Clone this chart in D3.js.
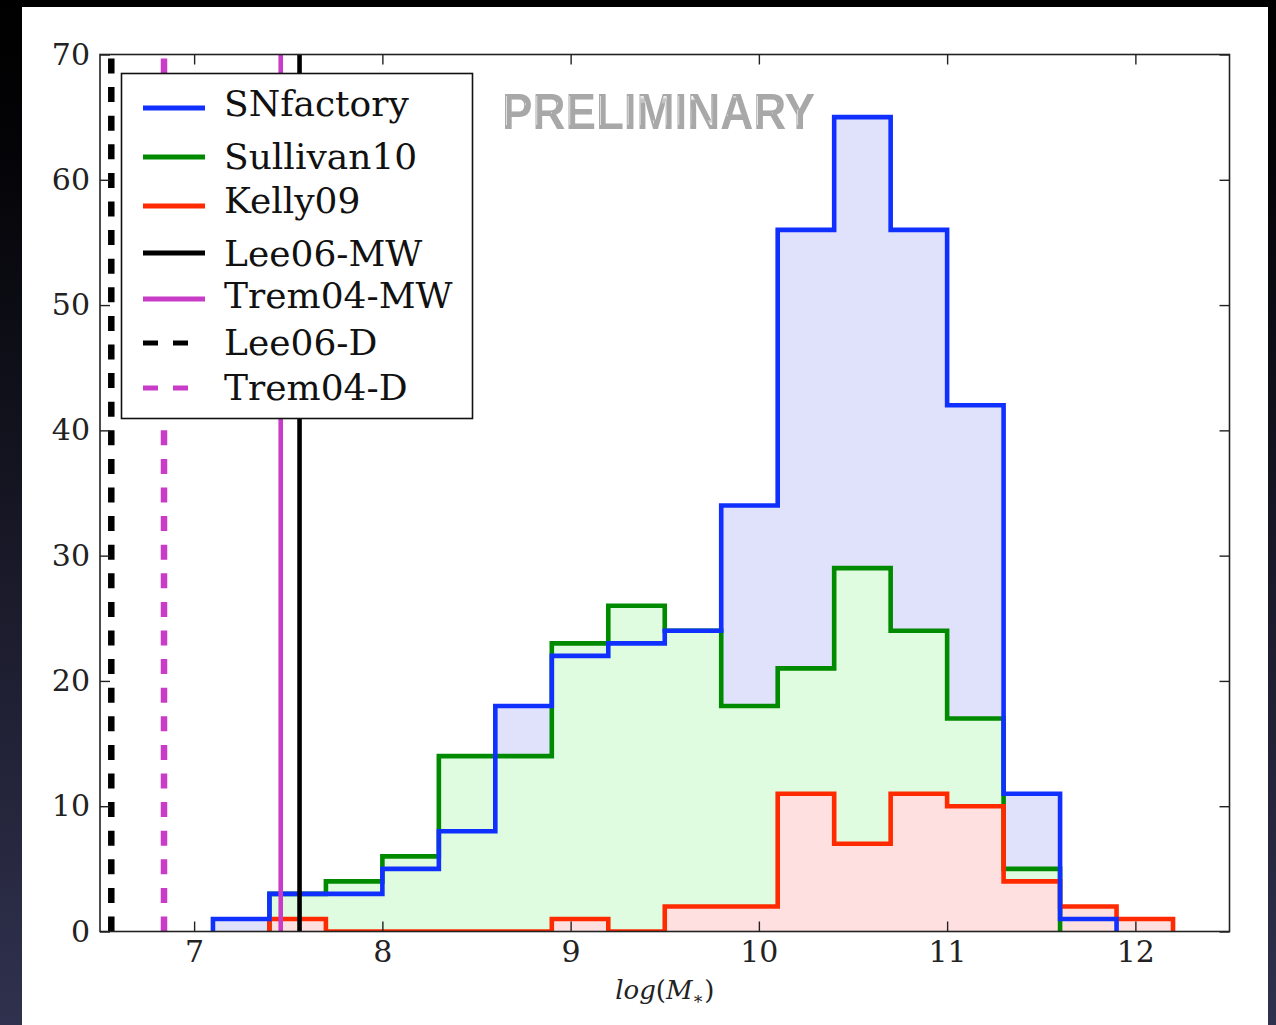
<!DOCTYPE html>
<html>
<head>
<meta charset="utf-8">
<script src="https://cdn.jsdelivr.net/npm/d3@7"></script>
<style>
  html, body { margin: 0; padding: 0; background: #000; }
  svg { display: block; }
</style>
</head>
<body>
<script>
// Host stellar mass histograms (counts per 0.3 dex bin of log M*)
const binEdges = [7.1, 7.4, 7.7, 8.0, 8.3, 8.6, 8.9, 9.2, 9.5, 9.8, 10.1, 10.4, 10.7, 11.0, 11.3, 11.6, 11.9, 12.2];
// null = bin outside the sample's range
const snfactoryCounts  = [1, 3, 3, 5, 8, 18, 22, 23, 24, 34, 56, 65, 56, 42, 11, 1, null];
const sullivan10Counts = [null, 3, 4, 6, 14, 14, 23, 26, 24, 18, 21, 29, 24, 17, 5, null, null];
const kelly09Counts    = [null, 1, 0, 0, 0, 0, 1, 0, 2, 2, 11, 7, 11, 10, 4, 2, 1];

// Reference mass thresholds
const refNames  = ["Lee06-MW", "Trem04-MW", "Lee06-D", "Trem04-D"];
const refValues = [7.56, 7.46, 6.56, 6.84];

const xTicks = [7, 8, 9, 10, 11, 12];
const yTicks = [0, 10, 20, 30, 40, 50, 60, 70];

const W = 1276, H = 1025;
const plot = { left: 100, right: 1229.5, top: 54.5, bottom: 931.5 };

const svg = d3.select("body").append("svg").attr("width", W).attr("height", H);
const defs = svg.append("defs");

// Slide backdrop
const bg = defs.append("linearGradient").attr("id", "bg").attr("x1", 0).attr("y1", 0).attr("x2", 0).attr("y2", 1);
bg.append("stop").attr("offset", "0").attr("stop-color", "#000000");
bg.append("stop").attr("offset", "0.15").attr("stop-color", "#040407");
bg.append("stop").attr("offset", "1").attr("stop-color", "#30314e");
svg.append("rect").attr("width", W).attr("height", H).attr("fill", "url(#bg)");
svg.append("rect").attr("x", 22).attr("y", 7).attr("width", 1246).attr("height", H).attr("fill", "#ffffff");

defs.append("clipPath").attr("id", "plotclip").append("rect")
  .attr("x", plot.left).attr("y", plot.top)
  .attr("width", plot.right - plot.left).attr("height", plot.bottom - plot.top);

// Embossed watermark: grey letters with a thin white highlight inset
const emb = defs.append("filter").attr("id", "emboss")
  .attr("x", "-5%").attr("y", "-20%").attr("width", "110%").attr("height", "140%");
emb.append("feMorphology").attr("in", "SourceAlpha").attr("operator", "erode").attr("radius", 2.6).attr("result", "thin");
emb.append("feOffset").attr("in", "thin").attr("dx", -2).attr("dy", -1.5).attr("result", "shifted");
emb.append("feFlood").attr("flood-color", "#ffffff").attr("flood-opacity", 0.85).attr("result", "white");
emb.append("feComposite").attr("in", "white").attr("in2", "shifted").attr("operator", "in").attr("result", "hl");
const mg = emb.append("feMerge");
mg.append("feMergeNode").attr("in", "SourceGraphic");
mg.append("feMergeNode").attr("in", "hl");

const x = d3.scaleLinear().domain([6.5, 12.5]).range([plot.left, plot.right]);
const y = d3.scaleLinear().domain([0, 70]).range([plot.bottom, plot.top]);

function stepPoints(counts) {
  let a = counts.findIndex(v => v !== null);
  let b = counts.length - 1;
  while (counts[b] === null) b--;
  const pts = [[binEdges[a], 0]];
  for (let i = a; i <= b; i++) {
    pts.push([binEdges[i], counts[i]]);
    pts.push([binEdges[i + 1], counts[i]]);
  }
  pts.push([binEdges[b + 1], 0]);
  return pts;
}
const line = d3.line().x(d => x(d[0])).y(d => y(d[1]));

const series = [
  { name: "SNfactory",  counts: snfactoryCounts,  stroke: "#1030ff", fill: "#e0e2fc" },
  { name: "Sullivan10", counts: sullivan10Counts, stroke: "#008a00", fill: "#e0fce0" },
  { name: "Kelly09",    counts: kelly09Counts,    stroke: "#ff2a00", fill: "#ffe0e0" }
];

const g = svg.append("g").attr("clip-path", "url(#plotclip)");

// filled areas first
series.forEach(s => {
  g.append("path").attr("d", line(stepPoints(s.counts)) + "Z")
    .attr("fill", s.fill).attr("stroke", "none");
});
// outlines: Sullivan10, Kelly09, then SNfactory on top
[series[1], series[2], series[0]].forEach(s => {
  g.append("path").attr("d", line(stepPoints(s.counts)))
    .attr("fill", "none").attr("stroke", s.stroke)
    .attr("stroke-width", 4.6).attr("stroke-linejoin", "miter");
});

// reference lines
const refStyle = {
  "Lee06-MW":  { color: "#000000", width: 4.6, dash: null },
  "Trem04-MW": { color: "#c83cc8", width: 4.6, dash: null },
  "Lee06-D":   { color: "#000000", width: 6.5, dash: "15,13.6" },
  "Trem04-D":  { color: "#c83cc8", width: 6.5, dash: "15,13.6" }
};
refNames.forEach((n, i) => {
  const st = refStyle[n];
  g.append("line")
    .attr("x1", x(refValues[i])).attr("x2", x(refValues[i]))
    .attr("y1", y(0)).attr("y2", y(70))
    .attr("stroke", st.color).attr("stroke-width", st.width)
    .attr("stroke-dasharray", st.dash);
});

// watermark
svg.append("text").attr("x", 502).attr("y", 128.5).text("PRELIMINARY")
  .attr("font-family", "'Liberation Sans', Arial, sans-serif").attr("font-size", 50)
  .attr("textLength", 313).attr("lengthAdjust", "spacingAndGlyphs")
  .attr("font-weight", "bold").attr("fill", "#a8a8a8").attr("filter", "url(#emboss)");

// legend
const legendRows = [
  { label: "SNfactory",  color: "#1030ff", dash: null, w: 5,   ly: 108, ty: 116 },
  { label: "Sullivan10", color: "#008a00", dash: null, w: 5,   ly: 157, ty: 169 },
  { label: "Kelly09",    color: "#ff2a00", dash: null, w: 5,   ly: 206, ty: 213 },
  { label: refNames[0],  color: "#000000", dash: null, w: 5,   ly: 253, ty: 266 },
  { label: refNames[1],  color: "#c83cc8", dash: null, w: 5,   ly: 299, ty: 308 },
  { label: refNames[2],  color: "#000000", dash: "15,15", w: 5, ly: 343, ty: 355 },
  { label: refNames[3],  color: "#c83cc8", dash: "15,15", w: 5, ly: 388, ty: 400 }
];
const lg = svg.append("g");
lg.append("rect").attr("x", 121.5).attr("y", 73.5).attr("width", 351).attr("height", 345)
  .attr("fill", "#ffffff").attr("stroke", "#111").attr("stroke-width", 1.6);
legendRows.forEach(r => {
  lg.append("line").attr("x1", 143).attr("x2", r.dash ? 190 : 205).attr("y1", r.ly).attr("y2", r.ly)
    .attr("stroke", r.color).attr("stroke-width", r.w).attr("stroke-dasharray", r.dash);
  lg.append("text").attr("x", 224).attr("y", r.ty).text(r.label)
    .attr("font-family", "'DejaVu Serif', serif").attr("font-size", 36).attr("fill", "#111");
});

// frame and ticks
const tickFont = "'DejaVu Serif', serif";
function styleAxis(sel) {
  sel.select(".domain").remove();
  sel.selectAll(".tick line").attr("stroke", "#222").attr("stroke-width", 1.4);
  sel.selectAll(".tick text").attr("font-family", tickFont).attr("font-size", 30).attr("fill", "#222");
}
svg.append("g").attr("transform", `translate(0,${plot.bottom})`)
  .call(d3.axisBottom(x).tickValues(xTicks).tickSizeInner(-10).tickSizeOuter(0).tickPadding(9).tickFormat(d3.format("d")))
  .call(styleAxis);
svg.append("g").attr("transform", `translate(0,${plot.top})`)
  .call(d3.axisTop(x).tickValues(xTicks).tickSizeInner(-10).tickSizeOuter(0).tickFormat(""))
  .call(styleAxis);
svg.append("g").attr("transform", `translate(${plot.left},0)`)
  .call(d3.axisLeft(y).tickValues(yTicks).tickSizeInner(-10).tickSizeOuter(0).tickPadding(10).tickFormat(d3.format("d")))
  .call(styleAxis);
svg.append("g").attr("transform", `translate(${plot.right},0)`)
  .call(d3.axisRight(y).tickValues(yTicks).tickSizeInner(-10).tickSizeOuter(0).tickFormat(""))
  .call(styleAxis);
svg.append("rect").attr("x", plot.left).attr("y", plot.top)
  .attr("width", plot.right - plot.left).attr("height", plot.bottom - plot.top)
  .attr("fill", "none").attr("stroke", "#222").attr("stroke-width", 1.6);

// x-axis label: log(M_*)
const xl = svg.append("text").attr("x", (plot.left + plot.right) / 2).attr("y", 999)
  .attr("text-anchor", "middle").attr("font-family", "'DejaVu Serif', serif").attr("font-size", 26).attr("fill", "#222");
xl.append("tspan").attr("font-style", "italic").text("log");
xl.append("tspan").text("(");
xl.append("tspan").attr("font-style", "italic").text("M");
xl.append("tspan").attr("font-size", 17).attr("dy", 5).text("∗");
xl.append("tspan").attr("dy", -5).text(")");
</script>
</body>
</html>
